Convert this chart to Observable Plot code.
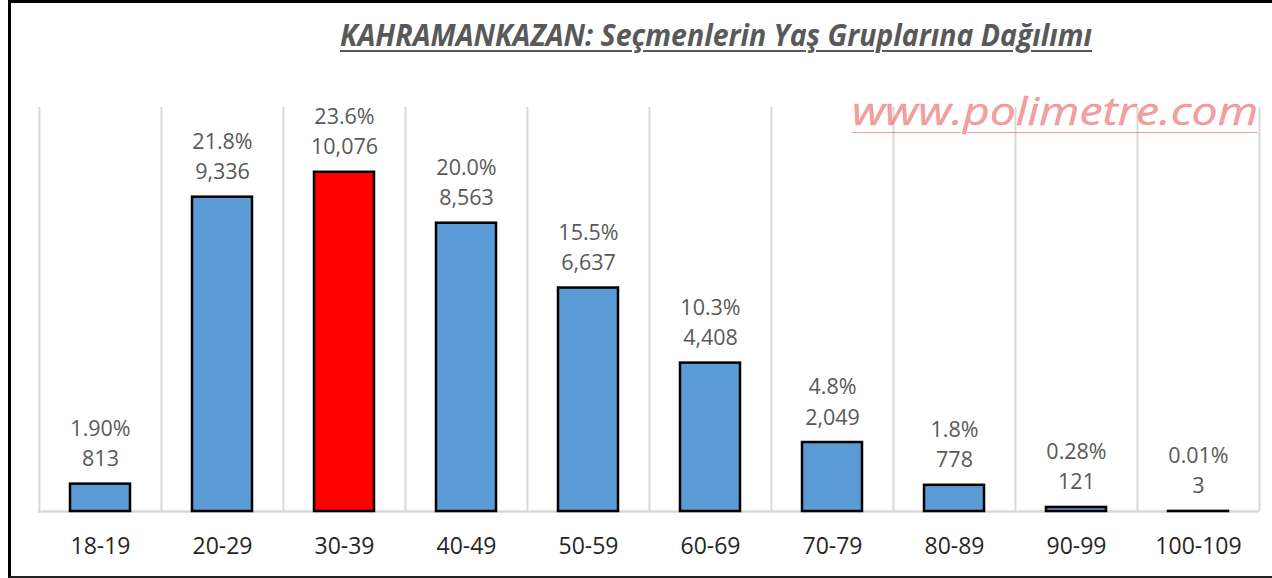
<!DOCTYPE html>
<html>
<head>
<meta charset="utf-8">
<script src="https://cdn.jsdelivr.net/npm/d3@7"></script>
<script src="https://cdn.jsdelivr.net/npm/@observablehq/plot@0.6"></script>
<style>
  body { margin: 0; background: #fff; overflow: hidden; }
  #wrap { position: relative; width: 1272px; height: 578px; overflow: hidden; font-family: "Open Sans", sans-serif; background: #fff; }
  #chart { position: absolute; left: 0; top: 0; }
  #frame { position: absolute; left: 8px; top: 0; width: 1400px; height: 578px; box-sizing: border-box;
           border-left: 3px solid #000; border-top: 3px solid #000; border-bottom: 2px solid #222; pointer-events: none; }
  #title { position: absolute; left: 340px; top: 20px; font-size: 30px; line-height: 30px; font-weight: bold; font-style: italic;
           color: #595959; white-space: nowrap; text-decoration: underline; text-decoration-thickness: 2px;
           text-underline-offset: 4px; transform-origin: 0 0; }
  #mark { position: absolute; left: 852px; top: 90px; font-size: 39px; line-height: 39px; font-style: italic;
          color: rgba(236, 95, 95, 0.6); white-space: nowrap; text-decoration: underline; text-decoration-thickness: 1px;
          text-underline-offset: 7px; transform-origin: 0 0; -webkit-text-stroke: 0.4px rgba(236, 95, 95, 0.6); }
</style>
</head>
<body>
<div id="wrap">
  <div id="chart"></div>
  <div id="mark">www.polimetre.com</div>
  <div id="title">KAHRAMANKAZAN: Seçmenlerin Yaş Gruplarına Dağılımı</div>
  <div id="frame"></div>
</div>
<script>
const categories = ["18-19", "20-29", "30-39", "40-49", "50-59", "60-69", "70-79", "80-89", "90-99", "100-109"];
const counts = [813, 9336, 10076, 8563, 6637, 4408, 2049, 778, 121, 3];
const percents = ["1.90%", "21.8%", "23.6%", "20.0%", "15.5%", "10.3%", "4.8%", "1.8%", "0.28%", "0.01%"];
const highlight = "30-39";
const yMax = 12000;

const data = categories.map((c, i) => ({cat: c, count: counts[i], pct: percents[i]}));
const fmt = d3.format(",");

const W = 1272, H = 578, mL = 38, mR = 13, mT = 107, mB = 67;
const step = (W - mL - mR) / categories.length;

const chart = Plot.plot({
  width: W,
  height: H,
  marginLeft: mL,
  marginRight: mR,
  marginTop: mT,
  marginBottom: mB,
  style: {fontFamily: "Open Sans", background: "transparent", overflow: "visible"},
  x: {type: "band", domain: categories, paddingInner: 0.51, paddingOuter: 0.255, label: null},
  y: {domain: [0, yMax], axis: null},
  marks: [
    Plot.ruleX(categories, {x: d => d, y1: 0, y2: yMax, dx: -step / 2, stroke: "#d9d9d9", strokeWidth: 2}),
    Plot.ruleX([categories[categories.length - 1]], {x: d => d, y1: 0, y2: yMax, dx: step / 2, stroke: "#d9d9d9", strokeWidth: 2}),
    Plot.ruleY([0], {stroke: "#d9d9d9", strokeWidth: 2.5}),
    Plot.barY(data, {x: "cat", y: "count", fill: d => d.cat === highlight ? "#ff0000" : "#5b9bd5", stroke: "#000", strokeWidth: 2.5}),
    Plot.text(data, {x: "cat", y: "count", text: d => d.pct + "\n" + fmt(d.count), lineAnchor: "bottom", lineHeight: 1.4,
      dy: -18, fontSize: 21.5, fill: "#595959"}),
    Plot.axisX({tickSize: 0, tickPadding: 26, fontSize: 23, color: "#262626", label: null})
  ]
});
document.getElementById("chart").appendChild(chart);

function fit(id, target) {
  const el = document.getElementById(id);
  const w = el.getBoundingClientRect().width;
  el.style.transform = `scaleX(${target / w})`;
}
fit("title", 752);
fit("mark", 406);
</script>
</body>
</html>
